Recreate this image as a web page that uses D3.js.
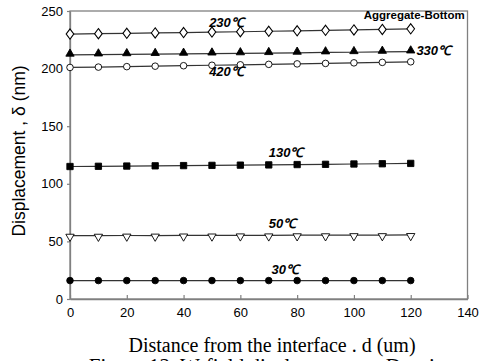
<!DOCTYPE html>
<html>
<head>
<meta charset="utf-8">
<script src="https://cdn.jsdelivr.net/npm/d3@7"></script>
<style>
  body { margin: 0; background: #fff; }
  svg { display: block; }
</style>
</head>
<body>
<svg id="chart" width="480" height="361"></svg>
<script>
var distance = [0, 10, 20, 30, 40, 50, 60, 70, 80, 90, 100, 110, 120];

var d230 = [230, 230.3, 230.6, 231, 231.3, 231.7, 232, 232.4, 232.8, 233.2, 233.6, 234, 234.5];
var d330 = [212, 212.2, 212.4, 212.6, 212.8, 213, 213.2, 213.4, 213.7, 214, 214.2, 214.5, 214.8];
var d420 = [201, 201.3, 201.7, 202.1, 202.5, 202.9, 203.3, 203.7, 204.1, 204.5, 205, 205.4, 205.9];
var d130 = [115, 115.2, 115.4, 115.6, 115.8, 116, 116.2, 116.4, 116.7, 116.9, 117.2, 117.4, 117.7];
var d50  = [55, 55, 55.1, 55.1, 55.2, 55.2, 55.3, 55.3, 55.4, 55.4, 55.5, 55.5, 55.6];
var d30  = [16, 16, 16, 16, 16, 16, 16, 16, 16, 16, 16, 16, 16];

var xTicks = [0, 20, 40, 60, 80, 100, 120, 140];
var yTicks = [0, 50, 100, 150, 200, 250];

var series = [
  { name: '230℃', values: d230, marker: 'diamond', fill: '#fff' },
  { name: '330℃', values: d330, marker: 'triangle', fill: '#000' },
  { name: '420℃', values: d420, marker: 'circle', fill: '#fff' },
  { name: '130℃', values: d130, marker: 'square', fill: '#000' },
  { name: '50℃',  values: d50,  marker: 'triangleDown', fill: '#fff' },
  { name: '30℃',  values: d30,  marker: 'circle', fill: '#000' }
];

// label spots in data units
var labels = [
  { text: '230℃', x: 49, y: 236 },
  { text: '330℃', x: 122, y: 212 },
  { text: '420℃', x: 49, y: 193.5 },
  { text: '130℃', x: 70, y: 123 },
  { text: '50℃',  x: 70, y: 62 },
  { text: '30℃',  x: 71, y: 22 }
];

var svg = d3.select('#chart');
var margin = { left: 70, top: 11, right: 12.5, bottom: 62 };
var width = 480 - margin.left - margin.right;
var height = 361 - margin.top - margin.bottom;

var x = d3.scaleLinear().domain([0, 140]).range([margin.left, margin.left + width]);
var y = d3.scaleLinear().domain([0, 250]).range([margin.top + height, margin.top]);

// frame
svg.append('rect')
  .attr('x', x(0)).attr('y', y(250))
  .attr('width', x(140) - x(0)).attr('height', y(0) - y(250))
  .attr('fill', 'none').attr('stroke', '#808080').attr('stroke-width', 1.3);

var xAxis = svg.append('g')
  .attr('transform', 'translate(0,' + y(0) + ')')
  .call(d3.axisBottom(x).tickValues(xTicks).tickSizeInner(-4).tickSizeOuter(0).tickPadding(9));
var yAxis = svg.append('g')
  .attr('transform', 'translate(' + x(0) + ',0)')
  .call(d3.axisLeft(y).tickValues(yTicks).tickSizeInner(3).tickSizeOuter(0).tickPadding(4));

[xAxis, yAxis].forEach(function(a) {
  a.select('.domain').attr('stroke', '#808080').attr('stroke-width', 1.3);
  a.selectAll('.tick line').attr('stroke', '#808080').attr('stroke-width', 1.2);
  a.selectAll('.tick text').attr('font-family', 'Liberation Sans, Arial, sans-serif')
    .attr('font-size', 13).attr('fill', '#000');
});

var line = d3.line()
  .x(function(d, i) { return x(distance[i]); })
  .y(function(d) { return y(d); });

var symbols = {
  diamond: d3.symbolDiamond,
  triangle: d3.symbolTriangle,
  circle: d3.symbolCircle,
  square: d3.symbolSquare,
  triangleDown: d3.symbolTriangle
};
var sizes = { diamond: 30, triangle: 30, circle: 34, square: 40, triangleDown: 30 };

series.forEach(function(s) {
  svg.append('path')
    .attr('d', line(s.values))
    .attr('fill', 'none')
    .attr('stroke', '#333')
    .attr('stroke-width', 1.2);

  var sym = d3.symbol().type(symbols[s.marker]).size(sizes[s.marker]);
  svg.append('g').selectAll('path')
    .data(s.values)
    .enter().append('path')
    .attr('d', sym)
    .attr('transform', function(d, i) {
      var t = 'translate(' + x(distance[i]) + ',' + y(d) + ')';
      if (s.marker === 'diamond') t += ' scale(1.3,1)';
      if (s.marker === 'triangleDown') t += ' rotate(180)';
      if (s.marker === 'triangle' || s.marker === 'triangleDown') t += ' translate(0,-1)';
      return t;
    })
    .attr('fill', s.fill)
    .attr('stroke', '#000')
    .attr('stroke-width', 0.9);
});

svg.append('g').selectAll('text')
  .data(labels)
  .enter().append('text')
  .attr('x', function(d) { return x(d.x); })
  .attr('y', function(d) { return y(d.y); })
  .attr('font-family', 'Liberation Sans, Arial, sans-serif')
  .attr('font-size', 13)
  .attr('font-style', 'italic')
  .attr('font-weight', 'bold')
  .text(function(d) { return d.text; });

svg.append('text')
  .attr('x', x(139)).attr('y', y(243))
  .attr('text-anchor', 'end')
  .attr('font-family', 'Liberation Sans, Arial, sans-serif')
  .attr('font-size', 11.5)
  .attr('font-weight', 'bold')
  .text('Aggregate-Bottom');

svg.append('text')
  .attr('transform', 'translate(25,' + (y(125) - 4) + ') rotate(-90)')
  .attr('text-anchor', 'middle')
  .attr('font-family', 'Liberation Sans, Arial, sans-serif')
  .attr('font-size', 17.5)
  .text('Displacement , δ (nm)');

svg.append('text')
  .attr('x', 272).attr('y', 352)
  .attr('text-anchor', 'middle')
  .attr('font-family', 'Liberation Serif, Times New Roman, serif')
  .attr('font-size', 20)
  .text('Distance from the interface . d (um)');

svg.append('text')
  .attr('x', 270).attr('y', 373)
  .attr('text-anchor', 'middle')
  .attr('font-family', 'Liberation Serif, Times New Roman, serif')
  .attr('font-size', 21)
  .text('Figure 12. W-field displacement at D-point');
</script>
</body>
</html>
